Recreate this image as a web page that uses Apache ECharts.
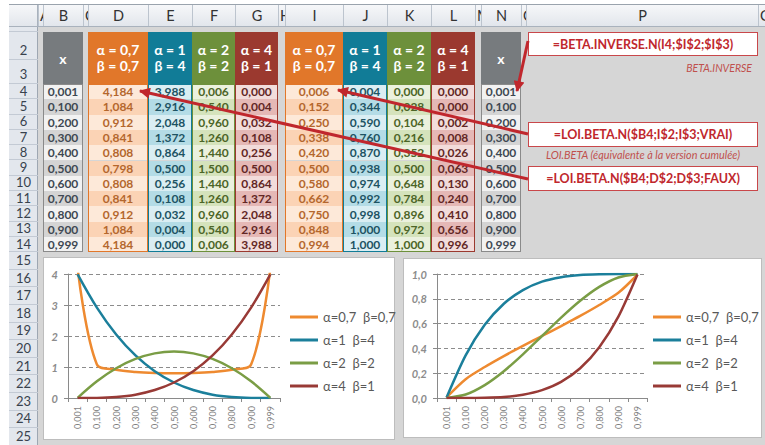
<!DOCTYPE html>
<html><head><meta charset="utf-8">
<script src="https://cdn.jsdelivr.net/npm/echarts@6/dist/echarts.min.js"></script>
<style>
html,body{margin:0;padding:0;background:#fff;}
#wrap{position:relative;width:765px;height:445px;overflow:hidden;font-family:Lato,'Liberation Sans',sans-serif;background:#fff;}
.abs{position:absolute;box-sizing:border-box;}
.c{display:flex;align-items:center;justify-content:center;white-space:nowrap;}
.clip{overflow:hidden;}
#arrows{position:absolute;left:0;top:0;}
#chart{position:absolute;left:0;top:0;width:765px;height:445px;}
</style></head>
<body><div id="wrap"></div>
<script>
// ---------- DATA ----------
const xLabels = ['0,001','0,100','0,200','0,300','0,400','0,500','0,600','0,700','0,800','0,900','0,999'];
const seriesNames = ['α=0,7  β=0,7','α=1  β=4','α=2  β=2','α=4  β=1'];
const headerAlpha = ['0,7','1','2','4'];
const headerBeta = ['0,7','4','2','1'];
// density (LOI.BETA.N ... FAUX)
const pdfA07B07 = [4.184,1.084,0.912,0.841,0.808,0.798,0.808,0.841,0.912,1.084,4.184];
const pdfA1B4   = [3.988,2.916,2.048,1.372,0.864,0.500,0.256,0.108,0.032,0.004,0.000];
const pdfA2B2   = [0.006,0.540,0.960,1.260,1.440,1.500,1.440,1.260,0.960,0.540,0.006];
const pdfA4B1   = [0.000,0.004,0.032,0.108,0.256,0.500,0.864,1.372,2.048,2.916,3.988];
// cumulative (LOI.BETA.N ... VRAI)
const cdfA07B07 = [0.006,0.152,0.250,0.338,0.420,0.500,0.580,0.662,0.750,0.848,0.994];
const cdfA1B4   = [0.004,0.344,0.590,0.760,0.870,0.938,0.974,0.992,0.998,1.000,1.000];
const cdfA2B2   = [0.000,0.028,0.104,0.216,0.352,0.500,0.648,0.784,0.896,0.972,1.000];
const cdfA4B1   = [0.000,0.000,0.002,0.008,0.026,0.063,0.130,0.240,0.410,0.656,0.996];
const colLetters = ['','A','B','C','D','E','F','G','H','I','J','K','L','M','N','O','P','Q'];
const rowLabels = ['1','2','3','4','5','6','7','8','9','10','11','12','13','14','15','16','17','18','19','20','21','22','23','24','25'];
const noteTexts = ['=BETA.INVERSE.N(I4;$I$2;$I$3)','BETA.INVERSE','=LOI.BETA.N($B4;I$2;I$3;VRAI)','LOI.BETA (équivalente à la version cumulée)','=LOI.BETA.N($B4;D$2;D$3;FAUX)'];

// ---------- STYLE / LAYOUT ----------
const colX = [9,38,43,83,88,148,192,235,278,285,343,387,431,475,481,521,526,758,765];
const rowY = [27,32,60,84];
for(let k=1;k<=11;k++) rowY.push(84+k*15.3);
for(let k=1;k<=11;k++) rowY.push(252.3+k*17.6);
const fmt3 = v => v.toFixed(3).replace('.',',');
const lineColors = ['#EE8A30','#1B7F9B','#7A9D45','#983A36'];
const theme = [
  {head:'#E1772A', light:'#FDE9D9', dark:'#FBD3B5', txt:'#B4672D', border:'#E1772A'},
  {head:'#117C97', light:'#DAEEF3', dark:'#B4DCE6', txt:'#1D5363', border:'#117C97'},
  {head:'#6D903B', light:'#EBF1DE', dark:'#D5E3BC', txt:'#4C6527', border:'#6D903B'},
  {head:'#9B392F', light:'#F2DCDB', dark:'#E5B8B6', txt:'#622725', border:'#9B392F'}
];
const grayTheme = {head:'#777B7E', light:'#F2F2F2', dark:'#D4D4D4', txt:'#3E4852', border:'#8A8A8A'};

const wrap = document.getElementById('wrap');
function el(x,y,w,h,css,html){
  const d=document.createElement('div');d.className='abs';
  d.style.cssText=`left:${x}px;top:${y}px;width:${w}px;height:${h}px;`+(css||'');
  if(html!==undefined)d.innerHTML=html; wrap.appendChild(d); return d;
}
// sheet background
el(9,27,756,418,'background:#D6D6D6;');
// column header band
el(9,4,756,23,'background:linear-gradient(#F6F7F9,#E2E6EC);border-top:1px solid #9AA3AD;border-bottom:1px solid #A9B2BD;');
for(let i=1;i<colLetters.length;i++){
  const x0=colX[i],x1=colX[i+1],narrow=(x1-x0)<10;
  const d=el(x0,5,x1-x0,21,'border-left:1px solid #BCC4CE;color:#333;font-size:14.5px;line-height:17px;justify-content:'+(narrow?'flex-start':'center')+';padding-left:'+(narrow?'1px':'0')+';','<span>'+colLetters[i]+'</span>');
  d.classList.add('c'); if(narrow) d.classList.add('clip');
}
// corner
el(9,5,29,21,'background:linear-gradient(#F6F7F9,#E2E6EC);border-right:1px solid #A9B2BD;');
const svgNS='http://www.w3.org/2000/svg';
// row header column
el(9,27,29,418,'background:#E3E7ED;border-right:1px solid #9EA7B2;');
for(let r=0;r<rowLabels.length;r++){
  const y0=rowY[r],y1=rowY[r+1];
  const d=el(9,y0,29,y1-y0,'border-bottom:1px solid #C3CAD4;color:#38424D;font-size:13px;align-items:'+(r<3?'flex-end':'center')+';line-height:13px;'+(r<3?'padding-bottom:2px;':''), r===0?'':'<span>'+rowLabels[r]+'</span>');
  d.classList.add('c');
}
// tables
function xTable(x0,x1){
  el(x0,32,x1-x0,52,'background:'+grayTheme.head+';color:#fff;font-weight:bold;font-size:14px;','x').classList.add('c');
  for(let k=0;k<11;k++){
    const y0=rowY[3+k],y1=rowY[4+k];
    el(x0,y0,x1-x0,y1-y0,'background:'+(k%2?grayTheme.dark:grayTheme.light)+';color:'+grayTheme.txt+';font-weight:bold;font-size:12px;line-height:13px;',xLabels[k]).classList.add('c');
  }
  el(x0,84,x1-x0,rowY[14]-84,'border:1px solid '+grayTheme.border+';');
}
function valTable(cols, arrays){
  for(let j=0;j<4;j++){
    const x0=colX[cols[j]],x1=colX[cols[j]+1],t=theme[j];
    el(x0,32,x1-x0,52,'background:'+t.head+';color:#fff;font-weight:bold;font-size:14px;line-height:16px;flex-direction:column;',
      '<div>α = '+headerAlpha[j]+'</div><div>β = '+headerBeta[j]+'</div>').classList.add('c');
    for(let k=0;k<11;k++){
      const y0=rowY[3+k],y1=rowY[4+k];
      el(x0,y0,x1-x0,y1-y0,'background:'+(k%2?t.dark:t.light)+';color:'+t.txt+';font-weight:bold;font-size:12px;line-height:13px;',fmt3(arrays[j][k])).classList.add('c');
    }
    el(x0,84,x1-x0,rowY[14]-84,'border:1px solid '+t.border+';');
  }
}
xTable(43,83);
valTable([4,5,6,7],[pdfA07B07,pdfA1B4,pdfA2B2,pdfA4B1]);
valTable([9,10,11,12],[cdfA07B07,cdfA1B4,cdfA2B2,cdfA4B1]);
xTable(481,521);
// notes
const red='#C0272D';
const boxCss='background:#fff;border:1.5px solid #C9474A;color:'+red+';font-weight:bold;font-size:12.5px;';
el(528,32,230,24,boxCss,noteTexts[0]).classList.add('c');
el(600,61,152,14,'color:#C0504D;font-style:italic;font-size:10.5px;justify-content:flex-end;',noteTexts[1]).classList.add('c');
el(528,122,230,25,boxCss,noteTexts[2]).classList.add('c');
el(524,147,238,14,'color:#C0504D;font-style:italic;font-size:10.8px;',noteTexts[3]).classList.add('c');
el(528,166,230,25,boxCss,noteTexts[4]).classList.add('c');
// chart frames
el(43,257,352,183,'background:#fff;border:1px solid #BDBDBD;');
el(403,258,359,180,'background:#fff;border:1px solid #BDBDBD;');
// arrows
const svg=document.createElementNS(svgNS,'svg');svg.setAttribute('id','arrows');svg.setAttribute('width','765');svg.setAttribute('height','445');
svg.innerHTML='<defs><marker id="ah" viewBox="0 0 10 10" refX="9" refY="5" markerUnits="userSpaceOnUse" markerWidth="13" markerHeight="11" orient="auto"><path d="M0,0 L10,5 L0,10 z" fill="'+red+'"/></marker></defs>'+
 '<line x1="528" y1="41" x2="517" y2="91" stroke="'+red+'" stroke-width="3" marker-end="url(#ah)"/>'+
 '<line x1="528" y1="134" x2="338" y2="90" stroke="'+red+'" stroke-width="3" marker-end="url(#ah)"/>'+
 '<line x1="528" y1="179" x2="140" y2="91" stroke="'+red+'" stroke-width="3" marker-end="url(#ah)"/>';
wrap.appendChild(svg);
// chart container
const cdiv=document.createElement('div');cdiv.id='chart';wrap.appendChild(cdiv);

const chart = echarts.init(cdiv, null, {renderer:'svg'});
const axisGray='#8A8A8A';
const font='Lato';
function xAx(i){return {type:'category',gridIndex:i,data:xLabels,boundaryGap:true,
  axisLine:{show:true,lineStyle:{color:axisGray,width:1}},
  axisTick:{show:true,interval:0,length:4,lineStyle:{color:axisGray}},
  axisLabel:{rotate:90,interval:0,fontSize:9,color:'#7F7F7F',margin:8,fontFamily:font},
  splitLine:{show:false}};}
function yAx(i,max,interval,f){return {type:'value',gridIndex:i,min:0,max:max,interval:interval,
  axisLine:{show:true,lineStyle:{color:axisGray}},
  axisTick:{show:true,length:4,lineStyle:{color:axisGray}},
  axisLabel:{fontSize:11,fontStyle:'italic',fontWeight:'bold',color:'#8C8C8C',margin:10,fontFamily:font,formatter:f},
  splitLine:{show:true,lineStyle:{color:'#8C8C8C',type:[4,3],width:1}}};}
const pdfs=[pdfA07B07,pdfA1B4,pdfA2B2,pdfA4B1];
const cdfs=[cdfA07B07,cdfA1B4,cdfA2B2,cdfA4B1];
const series=[];
pdfs.forEach((d,i)=>series.push({type:'line',name:seriesNames[i],xAxisIndex:0,yAxisIndex:0,data:d,smooth:0.35,symbol:'none',clip:true,color:lineColors[i],lineStyle:{width:2.5,color:lineColors[i]}}));
cdfs.forEach((d,i)=>series.push({type:'line',name:seriesNames[i],xAxisIndex:1,yAxisIndex:1,data:d,smooth:0.25,symbol:'none',clip:true,color:lineColors[i],lineStyle:{width:2.5,color:lineColors[i]}}));
function leg(left){return {orient:'vertical',left:left,top:305,itemWidth:28,itemHeight:3,itemGap:9,icon:'rect',
  data:seriesNames,selectedMode:false,textStyle:{fontSize:13,color:'#595959',fontFamily:font,lineHeight:14}};}
chart.setOption({
  backgroundColor:'transparent',animation:false,
  grid:[{left:68,top:274,width:212,height:124},{left:437,top:274,width:210,height:124}],
  xAxis:[xAx(0),xAx(1)],
  yAxis:[yAx(0,4,1,v=>String(v)),yAx(1,1,0.2,v=>v.toFixed(1).replace('.',','))],
  legend:[leg(285),leg(648)],
  series:series
});
</script>
</body></html>
